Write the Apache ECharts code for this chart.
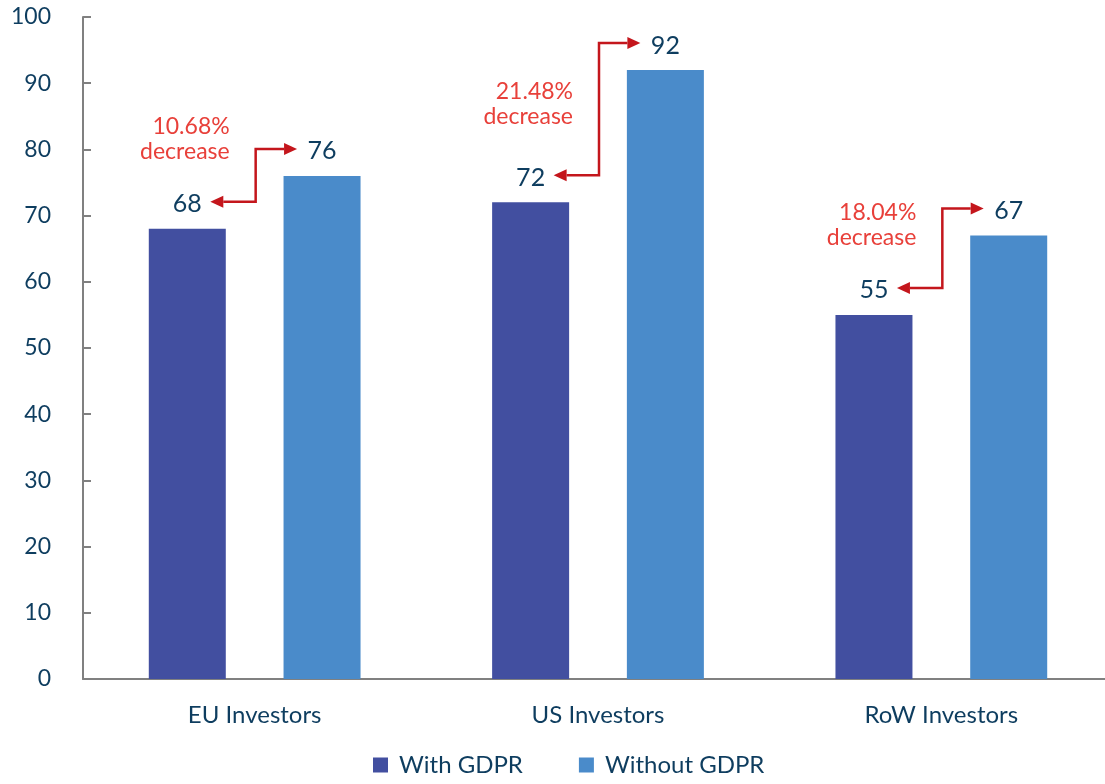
<!DOCTYPE html>
<html><head><meta charset="utf-8">
<script src="https://cdn.jsdelivr.net/npm/echarts@6/dist/echarts.min.js"></script>
<style>html,body{margin:0;padding:0;background:#fff}#c{width:1105px;height:784px}</style>
</head><body><div id="c"></div>
<script>
const categories = ['EU Investors', 'US Investors', 'RoW Investors'];
const withGDPR = [68, 72, 55];
const withoutGDPR = [76, 92, 67];
const decreaseLabels = ['10.68%', '21.48%', '18.04%'];
const noteLevels = [81.5, 86.8, 68.6];
const yTicks = [0, 100, 10];

const NAVY = '#0e3d5f', DARK = '#424fa0', LIGHT = '#4a8bca', RED = '#c4161c', RED_TXT = '#e8403a';
const FONT = 'Lato';
const BAR_W = 77, BAR_GAP = 0.75;

const chart = echarts.init(document.getElementById('c'));
const arrowData = categories.map((c, i) => [i, withGDPR[i], withoutGDPR[i], noteLevels[i], decreaseLabels[i]]);

function renderArrow(params, api) {
  const i = api.value(0);
  const lo = api.coord([i, api.value(1)]);
  const hi = api.coord([i, api.value(2)]);
  const note = api.coord([i, api.value(3)]);
  const cx = lo[0];
  const off = BAR_W * (1 + BAR_GAP) / 2;
  const yLo = lo[1] - 27, yHi = hi[1] - 27;
  const xL = cx - off + 23, xR = cx + off - 25, xV = cx + 1;
  const AL = 13, AW = 6;
  return {
    type: 'group',
    children: [
      { type: 'polyline', shape: { points: [[xL + AL, yLo], [xV, yLo], [xV, yHi], [xR - AL, yHi]] },
        style: { stroke: RED, lineWidth: 2.5, fill: null } },
      { type: 'polygon', shape: { points: [[xL, yLo], [xL + AL, yLo - AW], [xL + AL, yLo + AW]] }, style: { fill: RED } },
      { type: 'polygon', shape: { points: [[xR, yHi], [xR - AL, yHi - AW], [xR - AL, yHi + AW]] }, style: { fill: RED } },
      { type: 'text', x: xV - 26, y: note[1],
        style: { text: decreaseLabels[params.dataIndex] + '\ndecrease', align: 'right', verticalAlign: 'middle',
          fontSize: 23, fontFamily: FONT, fill: RED_TXT, lineHeight: 25 } }
    ]
  };
}

chart.setOption({
  animation: false,
  textStyle: { fontFamily: FONT },
  grid: { left: 83, top: 17, bottom: 105, right: -8, containLabel: false, outerBoundsMode: 'none' },
  legend: {
    data: ['With GDPR', 'Without GDPR'], bottom: 2, left: 368, icon: 'rect',
    itemWidth: 15, itemHeight: 15, itemGap: 56,
    textStyle: { fontSize: 24, color: NAVY, fontFamily: FONT, padding: [0, 0, 0, 6] }
  },
  xAxis: {
    type: 'category', data: categories,
    axisLine: { show: true, lineStyle: { color: '#808080', width: 2 } },
    axisTick: { show: false },
    axisLabel: { fontSize: 24, color: NAVY, margin: 24, fontFamily: FONT }
  },
  yAxis: {
    type: 'value', min: yTicks[0], max: yTicks[1], interval: yTicks[2],
    axisLine: { show: true, lineStyle: { color: '#808080', width: 2 } },
    axisTick: { show: true, inside: true, length: 8, lineStyle: { color: '#808080', width: 2 } },
    splitLine: { show: false },
    axisLabel: { fontSize: 23, color: NAVY, margin: 32, fontFamily: FONT }
  },
  series: [
    { name: 'With GDPR', type: 'bar', data: withGDPR, barWidth: BAR_W, barGap: (BAR_GAP * 100) + '%',
      itemStyle: { color: DARK },
      label: { show: true, position: 'top', distance: 12, fontSize: 25, color: NAVY, fontFamily: FONT } },
    { name: 'Without GDPR', type: 'bar', data: withoutGDPR, barWidth: BAR_W,
      itemStyle: { color: LIGHT },
      label: { show: true, position: 'top', distance: 12, fontSize: 25, color: NAVY, fontFamily: FONT } },
    { name: 'arrows', type: 'custom', data: arrowData, renderItem: renderArrow, z: 10,
      encode: { x: 0, y: [1, 2] }, silent: true }
  ]
});
</script></body></html>
